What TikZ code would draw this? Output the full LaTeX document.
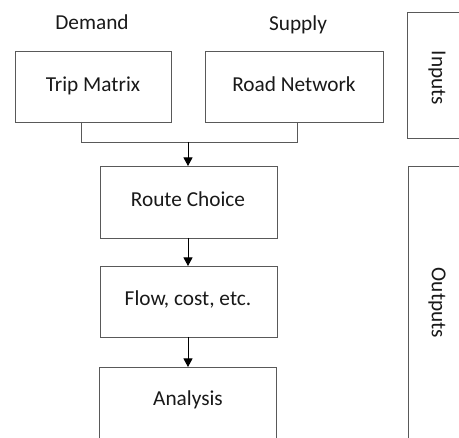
\documentclass[tikz,border=0pt]{standalone}
\usepackage{fontspec}
\setmainfont{Carlito}
\usetikzlibrary{arrows.meta}
\begin{document}
\begin{tikzpicture}[x=1pt,y=-1pt,
  box/.style={draw=black!65, line width=0.9pt, fill=white},
  lbl/.style={font=\fontsize{21.3}{25}\selectfont, text=black!90, anchor=base},
  rlbl/.style={font=\fontsize{21.3}{25}\selectfont, text=black!90, rotate=-90},
  conn/.style={draw=black!65, line width=0.9pt},
  arr/.style={draw=black, line width=1pt, -{Triangle[length=8.5pt,width=9pt]}}]
\clip (0,0) rectangle (459,438);
\useasboundingbox (0,0) rectangle (459,438);
% boxes
\draw[box] (15,51) rectangle (171,122);
\draw[box] (205,51) rectangle (383,122);
\draw[box] (100,166) rectangle (277,238);
\draw[box] (100,266) rectangle (277,337);
\draw[box] (99,367) rectangle (276,450);
\draw[box] (407,12) rectangle (470,138);
\draw[box] (408,166) rectangle (470,450);
% nodes
\node[lbl] (dem) at (92,30) {Demand};
\node[lbl] (sup) at (298,31) {Supply};
\node[lbl] (tm) at (93,92) {Trip Matrix};
\node[lbl] (rn) at (294,92) {Road Network};
\node[lbl] (rc) at (188,207) {Route Choice};
\node[lbl] (fc) at (188,306) {Flow, cost, etc.};
\node[lbl] (an) at (188,406) {Analysis};
\node[rlbl] (inp) at (437,78) {Inputs};
\node[rlbl] (out) at (437,303) {Outputs};
% coordinates
\coordinate (tmb) at (81,122);
\coordinate (rnb) at (297,122);
\coordinate (j1) at (81,142);
\coordinate (j2) at (297,142);
\coordinate (jm) at (188,142);
\coordinate (rct) at (188,166);
\coordinate (rcb) at (188,238);
\coordinate (fct) at (188,266);
\coordinate (fcb) at (188,337);
\coordinate (ant) at (188,367);
% connectors
\draw[conn] (tmb) -- (j1) -- (j2) -- (rnb);
\draw[arr] (jm) -- (rct);
\draw[arr] (rcb) -- (fct);
\draw[arr] (fcb) -- (ant);
\end{tikzpicture}
\end{document}
